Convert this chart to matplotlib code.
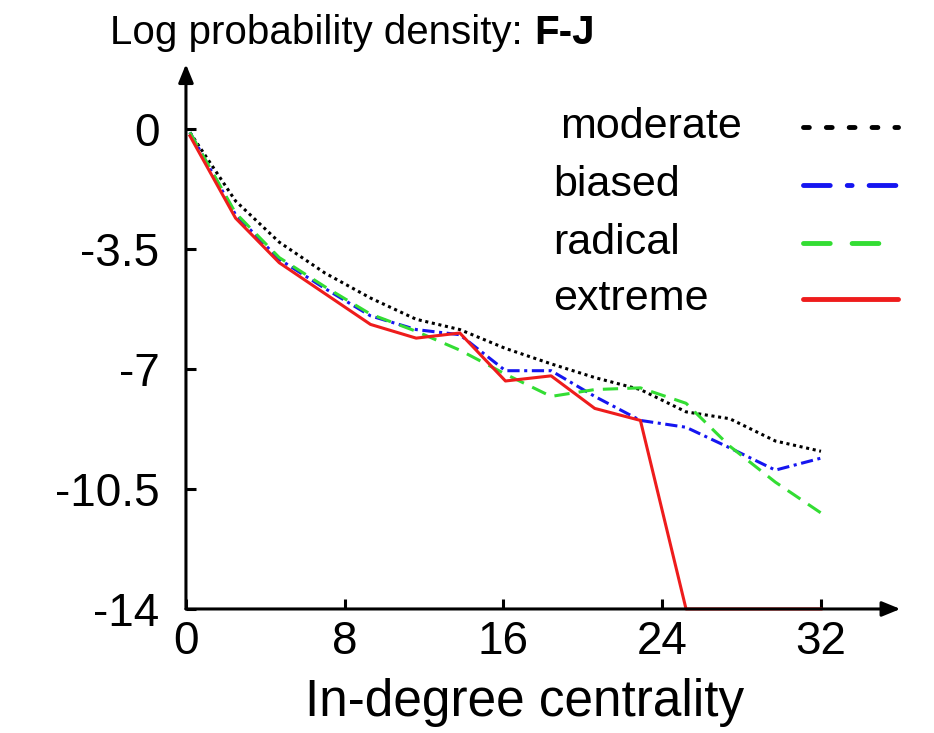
import matplotlib
matplotlib.use("Agg")
import matplotlib.pyplot as plt
from matplotlib.lines import Line2D

plt.rcParams['font.family'] = ['Liberation Sans', 'DejaVu Sans']
plt.rcParams['axes.unicode_minus'] = False

# in-degree bins (x positions of the polylines)
xVals = [0.2, 2.5, 4.7, 7.0, 9.3, 11.6, 13.8, 16.1, 18.4, 20.6, 22.9, 25.2, 27.4, 29.7, 32.0]

# log probability density per group
yModerate = [-0.1, -2.1, -3.3, -4.2, -4.93, -5.55, -5.85, -6.4, -6.85, -7.25, -7.6, -8.25, -8.45, -9.1, -9.4]
yBiased = [-0.1, -2.5, -3.8, -4.65, -5.45, -5.85, -6.0, -7.05, -7.05, -7.8, -8.5, -8.7, -9.3, -9.95, -9.6]
yRadical = [-0.1, -2.45, -3.75, -4.6, -5.4, -5.9, -6.45, -7.15, -7.8, -7.6, -7.55, -8.0, -9.25, -10.3, -11.2]
yExtreme = [-0.2, -2.6, -3.9, -4.8, -5.7, -6.1, -5.95, -7.35, -7.2, -8.15, -8.5, -14, -14, -14, -14]

labels = ["moderate", "biased", "radical", "extreme"]
xTicks = [0, 8, 16, 24, 32]
yTicks = [0, -3.5, -7, -10.5, -14]
yTickLabels = ["0", "-3.5", "-7", "-10.5", "-14"]

W, H = 934, 733
fig = plt.figure(figsize=(W / 100, H / 100), dpi=100)
ax = fig.add_axes([0.1991, 0.1692, 0.6799, 0.6548])

lw = 2.2
ax.plot(xVals, yModerate, color="black", lw=lw, dashes=(1, 1.2), clip_on=False)
ax.plot(xVals, yBiased, color="#1515f0", lw=lw, dashes=(4, 1.5, 1, 1.5), clip_on=False)
ax.plot(xVals, yRadical, color="#33dd33", lw=lw, dashes=(5, 3), clip_on=False)
ax.plot(xVals, yExtreme, color="#ee1c1c", lw=lw, clip_on=False, zorder=3)

ax.set_xlim(0, 32)
ax.set_ylim(-14, 0)
ax.set_xticks(xTicks)
ax.set_xticklabels([str(t) for t in xTicks])
ax.set_yticks(yTicks)
ax.set_yticklabels(yTickLabels)
ax.tick_params(direction="in", length=7, width=2.2, labelsize=33)
ax.tick_params(axis="x", pad=8)
ax.tick_params(axis="y", pad=19)

# axes with arrows
for s in ["top", "right", "left", "bottom"]:
    ax.spines[s].set_visible(False)
arrow = dict(arrowstyle="-|>,head_length=1.1,head_width=0.45", color="black", lw=2.2,
             shrinkA=0, shrinkB=0)
ax.annotate("", xy=(1.125, 0), xytext=(0, 0), xycoords="axes fraction",
            arrowprops=arrow, annotation_clip=False)
ax.annotate("", xy=(0, 1.135), xytext=(0, 0), xycoords="axes fraction",
            arrowprops=arrow, annotation_clip=False)

ax.set_xlabel("In-degree centrality", fontsize=37)
ax.xaxis.set_label_coords(0.534, -0.143)

t = fig.text(0.118, 0.955, "Log probability density: ", fontsize=29, va="center")
ax.annotate("F-J", xy=(1, 0), xycoords=t, va="bottom", fontsize=29, fontweight="bold")

# legend: label on the left, line sample on the right
legStyles = [
    dict(color="black", dashes=(1.2, 3.5), dash_capstyle="round"),
    dict(color="#1515f0", dashes=(5.5, 3.5, 1, 3.5), dash_capstyle="round"),
    dict(color="#33dd33", dashes=(5.5, 4.5), dash_capstyle="round"),
    dict(color="#ee1c1c", solid_capstyle="round"),
]
textX = [560, 553, 553, 553]
rowY = [127, 185, 243, 299]
for lab, st, tx, ry in zip(labels, legStyles, textX, rowY):
    fy = 1 - ry / H
    fig.text(tx / W, fy, lab, fontsize=31, va="center", ha="left")
    fig.add_artist(Line2D([803 / W, 898 / W], [fy, fy], lw=3.5, **st))

fig.savefig("out.png", dpi=100)
